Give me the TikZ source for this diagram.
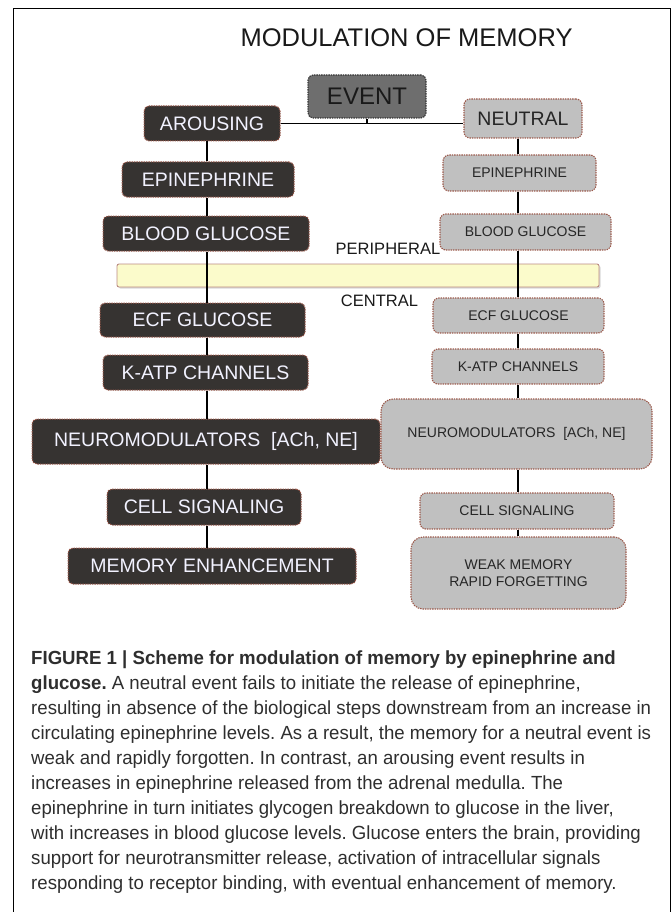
\documentclass[tikz,border=0pt]{standalone}
\usepackage{fontspec}
\setmainfont{Liberation Sans}
\newfontfamily\capfont[FakeStretch=0.98]{Liberation Sans}
\usepackage{xcolor}
\usetikzlibrary{positioning,calc,shadows}
\frenchspacing

\definecolor{boxdark}{HTML}{363331}
\definecolor{boxgrey}{HTML}{C0C0C0}
\definecolor{eventgrey}{HTML}{6E6E6E}
\definecolor{rimred}{HTML}{9C5A4C}
\definecolor{barfill}{HTML}{FBFBCB}
\definecolor{captext}{HTML}{2E2E2E}

\begin{document}
\begin{tikzpicture}[
    x=1pt, y=-1pt,
    darkbox/.style={rectangle, rounded corners=5pt, draw=rimred, line width=1pt, dash pattern=on 1.4pt off 1pt, fill=boxdark, text=white!95!blue, font=\fontsize{19.5}{22}\selectfont, inner sep=0pt},
    greybox/.style={rectangle, rounded corners=6pt, draw=rimred, line width=1.1pt, dash pattern=on 1.4pt off 1pt, fill=boxgrey, text=black!85, font=\fontsize{14}{16.5}\selectfont, inner sep=0pt, align=center},
    eventbox/.style={rectangle, rounded corners=5pt, draw=black!80, line width=1.1pt, dash pattern=on 1.4pt off 1pt, fill=eventgrey, text=black!90, font=\fontsize{24}{26}\selectfont, inner sep=0pt},
    bar/.style={rectangle, rounded corners=2pt, draw=rimred!70, line width=0.9pt, fill=barfill, drop shadow={shadow xshift=1.5pt, shadow yshift=-1.5pt, fill=black!30}, inner sep=0pt},
    zone/.style={font=\fontsize{16.5}{18}\selectfont, text=black!90, inner sep=0pt},
    link/.style={line width=1.7pt}
  ]

  \useasboundingbox (0,0) rectangle (671,912);
  \draw[line width=1pt] (13,912) -- (13,9) -- (670,9) -- (670,912);

  \node[anchor=base, font=\fontsize{25.5}{28}\selectfont, text=black!90] (title) at (406.5,47) {MODULATION OF MEMORY};
  \node[eventbox, minimum width=118pt, minimum height=43pt] (event) at (367,96.5) {EVENT};

  \node[darkbox, minimum width=136pt, minimum height=35pt] (arousing) at (212,123.5) {AROUSING};
  \node[darkbox, minimum width=172pt, minimum height=35pt] (epiL) at (208,179.5) {EPINEPHRINE};
  \node[darkbox, minimum width=206pt, minimum height=35pt] (bloodL) at (206,233.5) {BLOOD GLUCOSE};
  \node[darkbox, minimum width=205pt, minimum height=34pt] (ecfL) at (202.5,320) {ECF GLUCOSE};
  \node[darkbox, minimum width=205pt, minimum height=35pt] (katpL) at (205.5,372.5) {K-ATP CHANNELS};
  \node[darkbox, minimum width=348pt, minimum height=45pt] (neuroL) at (206,441.5) {NEUROMODULATORS\ \ [ACh, NE]};
  \node[darkbox, minimum width=194pt, minimum height=36pt] (cellL) at (204,507) {CELL SIGNALING};
  \node[darkbox, minimum width=288pt, minimum height=36pt] (memL) at (212,566) {MEMORY ENHANCEMENT};

  \node[greybox, font=\fontsize{19.5}{22}\selectfont, minimum width=118pt, minimum height=39pt] (neutral) at (523,118.5) {NEUTRAL};
  \node[greybox, minimum width=153pt, minimum height=36pt] (epiR) at (519.5,173) {EPINEPHRINE};
  \node[greybox, minimum width=171pt, minimum height=36pt] (bloodR) at (525.5,232) {BLOOD GLUCOSE};
  \node[greybox, minimum width=171pt, minimum height=35pt] (ecfR) at (518.5,315.5) {ECF GLUCOSE};
  \node[greybox, minimum width=172pt, minimum height=35pt] (katpR) at (518,366.5) {K-ATP CHANNELS};
  \node[greybox, rounded corners=12pt, minimum width=271pt, minimum height=70pt] (neuroR) at (516.5,434) {NEUROMODULATORS\ \ [ACh, NE]};
  \node[greybox, minimum width=194pt, minimum height=36pt] (cellR) at (517,511) {CELL SIGNALING};
  \node[greybox, rounded corners=12pt, minimum width=215pt, minimum height=72pt] (weakR) at (518.5,573) {WEAK MEMORY\\RAPID FORGETTING};

  \node[bar, minimum width=482pt, minimum height=23pt] (divide) at (358,275.5) {};
  \node[zone, anchor=base] (periph) at (388,254) {PERIPHERAL};
  \node[zone, anchor=base] (central) at (379.5,306) {CENTRAL};

  \coordinate (spineL) at (207,0);
  \coordinate (spineR) at (518,0);

  \draw[link] (event.south) -- (event.south |- arousing.east);
  \draw[link] (arousing.east) -- (neutral.west |- arousing.east);

  \foreach \a/\b in {arousing/epiL, epiL/bloodL, bloodL/ecfL, ecfL/katpL, katpL/neuroL, neuroL/cellL, cellL/memL}
    \draw[link] (spineL |- \a.south) -- (spineL |- \b.north);
  \foreach \a/\b in {neutral/epiR, epiR/bloodR, bloodR/ecfR, ecfR/katpR, katpR/neuroR, neuroR/cellR, cellR/weakR}
    \draw[link] (spineR |- \a.south) -- (spineR |- \b.north);

  \node[anchor=north west, inner sep=0pt, align=left, text=captext, font=\capfont\fontsize{19}{25}\selectfont] (caption) at (31,651) {%
    \textbf{FIGURE 1 | Scheme for modulation of memory by epinephrine and}\\
    \textbf{glucose.} A neutral event fails to initiate the release of epinephrine,\\
    resulting in absence of the biological steps downstream from an increase in\\
    circulating epinephrine levels. As a result, the memory for a neutral event is\\
    weak and rapidly forgotten. In contrast, an arousing event results in\\
    increases in epinephrine released from the adrenal medulla. The\\
    epinephrine in turn initiates glycogen breakdown to glucose in the liver,\\
    with increases in blood glucose levels. Glucose enters the brain, providing\\
    support for neurotransmitter release, activation of intracellular signals\\
    responding to receptor binding, with eventual enhancement of memory.};

\end{tikzpicture}
\end{document}
